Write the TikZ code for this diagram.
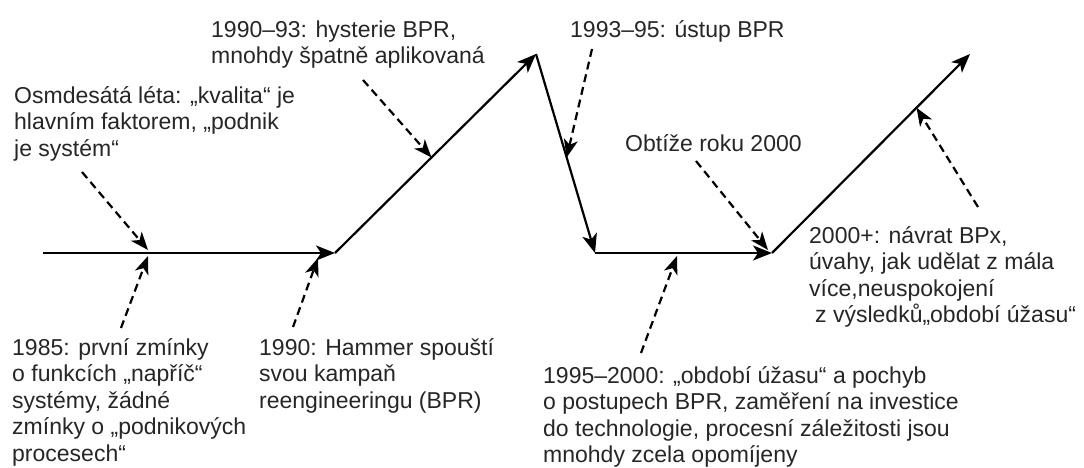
\documentclass[tikz,border=0pt]{standalone}
\usepackage{fontspec}
\setmainfont{Liberation Sans}
\usetikzlibrary{arrows.meta,calc}
\begin{document}
\begin{tikzpicture}[x=1pt,y=-1pt,
  lbl/.style={anchor=north west,inner sep=0pt,align=left,text=black!85,
    font=\fontsize{23}{26.5}\selectfont},
  mainarr/.style={line width=2.2pt,-{Stealth[length=19pt,width=15pt,inset=5pt]}},
  dasharr/.style={line width=2.2pt,dash pattern=on 8pt off 5pt,
    -{Stealth[length=18pt,width=14pt,inset=5pt]}}]
\useasboundingbox (0,0) rectangle (1084,468);
% main path points
\coordinate (p0) at (43,253);
\coordinate (p1) at (335,253);
\coordinate (p2) at (536,54);
\coordinate (p3) at (595,253);
\coordinate (p4) at (772,253);
\coordinate (p5) at (970,54);
\draw[mainarr] (p0) -- (p1);
\draw[mainarr] (p1) -- (p2);
\draw[mainarr] (p2) -- (p3);
\draw[mainarr] (p3) -- (p4);
\draw[mainarr] (p4) -- (p5);
% labels
\newcommand\fl{\rule{0pt}{24pt}}
\node[lbl] (t1) at (211,13) {\fl 1990–93: hysterie BPR,\\mnohdy špatně aplikovaná};
\node[lbl] (t2) at (14,79) {\fl Osmdesátá léta: „kvalita“ je\\hlavním faktorem, „podnik\\je systém“};
\node[lbl] (t3) at (570,13.5) {\fl 1993–95: ústup BPR};
\node[lbl] (t4) at (625,127) {\fl Obtíže roku 2000};
\node[lbl] (t5) at (809,219) {\fl 2000+: návrat BPx,\\úvahy, jak udělat z mála\\více,neuspokojení\\\hspace*{6pt}z výsledků„období úžasu“};
\node[lbl] (t6) at (12,331) {\fl 1985: první zmínky\\o funkcích „napříč“\\systémy, žádné\\zmínky o „podnikových\\procesech“};
\node[lbl] (t7) at (259,331) {\fl 1990: Hammer spouští\\svou kampaň\\reengineeringu (BPR)};
\node[lbl] (t8) at (543,359) {\fl 1995–2000: „období úžasu“ a pochyb\\o postupech BPR, zaměření na investice\\do technologie, procesní záležitosti jsou\\mnohdy zcela opomíjeny};
% dashed pointer coordinates
\coordinate (s1) at (82,172);  \coordinate (e1) at (148,250);
\coordinate (s2) at (363,80);  \coordinate (e2) at ($(p1)!0.48!(p2)$);
\coordinate (s3) at (592,49);  \coordinate (e3) at ($(p2)!0.52!(p3)$);
\coordinate (s4) at (696,161); \coordinate (e4) at (768,250);
\coordinate (s5) at (978,207); \coordinate (e5) at ($(p4)!0.73!(p5)$);
\coordinate (s6) at (121,328); \coordinate (e6) at (148,256);
\coordinate (s7) at (293,327); \coordinate (e7) at (318,258);
\coordinate (s8) at (641,353); \coordinate (e8) at (677,256);
\foreach \i in {1,...,8}{\draw[dasharr] (s\i) -- (e\i);}
\end{tikzpicture}
\end{document}
